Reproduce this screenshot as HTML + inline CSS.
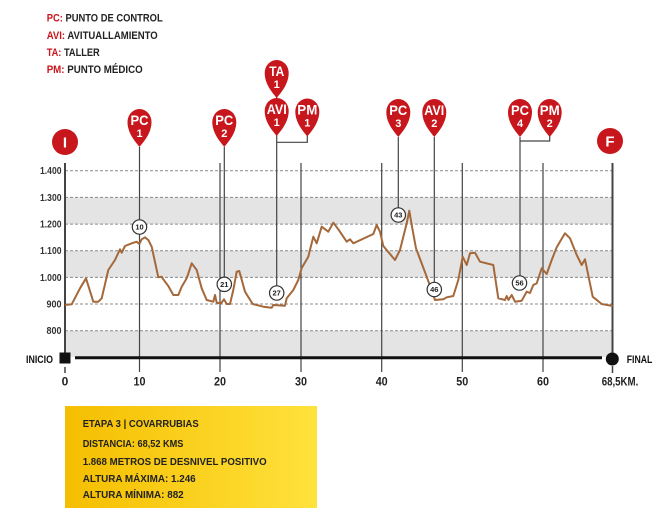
<!DOCTYPE html>
<html><head><meta charset="utf-8"><style>
html,body{margin:0;padding:0;background:#fff;}
svg{display:block;}
text{font-family:"Liberation Sans Narrow","Liberation Sans",sans-serif;font-weight:bold;}
</style></head><body>
<svg width="672" height="525" viewBox="0 0 672 525" xmlns="http://www.w3.org/2000/svg">
<defs>
<linearGradient id="yg" x1="0" x2="1" y1="0" y2="0">
<stop offset="0" stop-color="#F5BE00"/><stop offset="1" stop-color="#FFE23C"/>
</linearGradient>
</defs>
<!-- legend -->
<g font-size="11" fill="#222">
<text x="46.7" y="21.5" textLength="116" lengthAdjust="spacingAndGlyphs"><tspan fill="#C8161D">PC:</tspan> PUNTO DE CONTROL</text>
<text x="46.7" y="38.8" textLength="111" lengthAdjust="spacingAndGlyphs"><tspan fill="#C8161D">AVI:</tspan> AVITUALLAMIENTO</text>
<text x="46.7" y="56" textLength="53" lengthAdjust="spacingAndGlyphs"><tspan fill="#C8161D">TA:</tspan> TALLER</text>
<text x="46.7" y="73.2" textLength="96" lengthAdjust="spacingAndGlyphs"><tspan fill="#C8161D">PM:</tspan> PUNTO MÉDICO</text>
</g>
<!-- bands -->
<rect x="65" y="197.4" width="547.5" height="26.7" fill="#E4E4E4"/>
<rect x="65" y="250.7" width="547.5" height="26.7" fill="#E4E4E4"/>
<rect x="65" y="330.7" width="547.5" height="26" fill="#E4E4E4"/>
<!-- dashed grid -->
<g stroke="#8a8a8a" stroke-width="1" stroke-dasharray="3 2">
<line x1="65" x2="612" y1="170.7" y2="170.7"/>
<line x1="65" x2="612" y1="197.4" y2="197.4"/>
<line x1="65" x2="612" y1="224.1" y2="224.1"/>
<line x1="65" x2="612" y1="250.7" y2="250.7"/>
<line x1="65" x2="612" y1="277.4" y2="277.4"/>
<line x1="65" x2="612" y1="304" y2="304"/>
<line x1="65" x2="612" y1="330.7" y2="330.7"/>
</g>
<!-- y labels -->
<g font-size="10" fill="#333" text-anchor="end">
<text x="61.5" y="174.2" textLength="21.5" lengthAdjust="spacingAndGlyphs">1.400</text>
<text x="61.5" y="200.9" textLength="21.5" lengthAdjust="spacingAndGlyphs">1.300</text>
<text x="61.5" y="227.6" textLength="21.5" lengthAdjust="spacingAndGlyphs">1.200</text>
<text x="61.5" y="254.2" textLength="21.5" lengthAdjust="spacingAndGlyphs">1.100</text>
<text x="61.5" y="280.9" textLength="21.5" lengthAdjust="spacingAndGlyphs">1.000</text>
<text x="61.5" y="307.5" textLength="15" lengthAdjust="spacingAndGlyphs">900</text>
<text x="61.5" y="334.2" textLength="15" lengthAdjust="spacingAndGlyphs">800</text>
</g>
<!-- vertical grid lines -->
<g stroke="#444" stroke-width="1.2">
<line x1="220" x2="220" y1="163" y2="372"/>
<line x1="301" x2="301" y1="163" y2="372"/>
<line x1="381.7" x2="381.7" y1="163" y2="372"/>
<line x1="462.3" x2="462.3" y1="163" y2="372"/>
<line x1="543" x2="543" y1="163" y2="372"/>
</g>
<line x1="65" x2="65" y1="163" y2="358" stroke="#444" stroke-width="2"/>
<line x1="612.5" x2="612.5" y1="163" y2="358" stroke="#444" stroke-width="2"/>
<line x1="65" x2="65" y1="367" y2="373" stroke="#444" stroke-width="1.5"/>
<line x1="612.5" x2="612.5" y1="366" y2="373" stroke="#444" stroke-width="1.5"/>
<!-- marker lines -->
<g stroke="#444" stroke-width="1.2" fill="none">
<line x1="139.5" x2="139.5" y1="147" y2="372"/>
<line x1="224.3" x2="224.3" y1="147" y2="284"/>
<line x1="276.7" x2="276.7" y1="97" y2="102"/>
<line x1="276.7" x2="276.7" y1="135" y2="293"/>
<polyline points="276.7,142.3 307.3,142.3 307.3,136"/>
<line x1="398.3" x2="398.3" y1="137" y2="215"/>
<line x1="434.3" x2="434.3" y1="137" y2="289"/>
<line x1="520" x2="520" y1="137" y2="283"/>
<polyline points="520,141 549.7,141 549.7,136"/>
</g>
<!-- profile -->
<polyline fill="none" stroke="#A4683A" stroke-width="2" stroke-linejoin="round" points="
65,305 71.7,304.3 80,288.3 86,278.3 93.3,301.7 98.3,301.7 101.7,298.3 108.3,270 115,260 120,249.3 121.7,252.7 125,246 131.7,243.3 136.7,241.7 139.3,244 141.7,239.3 145,237.3 148.3,240 151.7,246.7 158.3,277.3 161.7,276.7 163.3,279.3 168.3,286 173.3,295 178.3,295 181.7,286.7 186.7,278.3 191.7,263.3 196.7,270 201.7,288.3 206.7,300 213.3,301.7 215,295 216.7,302.7 221,303.3 224,299.3 226.7,304 230,304 233.3,290 236.7,271.7 239.3,271 245,291.7 252.7,304 263.3,306.7 271.7,307.7 273.3,305 285,305.7 286.7,298.3 293.3,290 298.3,280 301.7,268 308.3,256.7 313.3,236.7 316.7,243.3 321.7,226.7 328.3,231.7 333.3,222.7 338.3,229.3 346.7,241.7 350,239.3 353.3,243.3 373.3,234 376.7,225 380,231.7 383.3,246 395,260 400,250 406.7,223.3 409.3,210.7 411.7,225 416,248.3 426.7,276.7 435,300 443.3,299.3 446.7,297.3 453.3,296 458.3,280 462.7,256.7 466.7,265 470,253.3 475,252.7 480,261.7 493.3,265 498.3,298.3 505,300 506.7,296 508.5,300 511.7,295 515,301.7 521.7,300.7 526.7,291.7 530,293 533.3,285 536.7,283.3 541.7,268.3 546.7,274 551.7,260 556.7,247.3 565,233.3 570,238.3 576.7,255 581.7,265 585,259.3 592.7,296.7 601.7,304 612.7,306"/>
<!-- number circles -->
<g stroke="#333" stroke-width="1.2" fill="#fff">
<circle cx="139.5" cy="227" r="7.2"/>
<circle cx="224.3" cy="284.3" r="7.2"/>
<circle cx="276.7" cy="293" r="7.2"/>
<circle cx="398.3" cy="215" r="7.2"/>
<circle cx="434.3" cy="289.5" r="7.2"/>
<circle cx="519.5" cy="283" r="7.2"/>
</g>
<g font-size="7.5" fill="#222" text-anchor="middle">
<text x="139.5" y="229.7">10</text>
<text x="224.3" y="287">21</text>
<text x="276.7" y="295.7">27</text>
<text x="398.3" y="217.7">43</text>
<text x="434.3" y="292.2">46</text>
<text x="519.5" y="285.7">56</text>
</g>
<!-- axis -->
<line x1="75" x2="602" y1="357.8" y2="357.8" stroke="#111" stroke-width="3"/>
<rect x="59.5" y="352.5" width="11" height="11" fill="#111"/>
<circle cx="612.3" cy="359" r="6.5" fill="#111"/>
<text x="26" y="363" font-size="11" fill="#111" textLength="27" lengthAdjust="spacingAndGlyphs">INICIO</text>
<text x="626.7" y="363" font-size="11" fill="#111" textLength="25.7" lengthAdjust="spacingAndGlyphs">FINAL</text>
<!-- x labels -->
<g font-size="12" fill="#222" text-anchor="middle">
<text x="65" y="385.5">0</text>
<text x="139.5" y="385.5" textLength="12" lengthAdjust="spacingAndGlyphs">10</text>
<text x="220" y="385.5" textLength="12" lengthAdjust="spacingAndGlyphs">20</text>
<text x="301" y="385.5" textLength="12" lengthAdjust="spacingAndGlyphs">30</text>
<text x="381.7" y="385.5" textLength="12" lengthAdjust="spacingAndGlyphs">40</text>
<text x="462.3" y="385.5" textLength="12" lengthAdjust="spacingAndGlyphs">50</text>
<text x="543" y="385.5" textLength="12" lengthAdjust="spacingAndGlyphs">60</text>
</g>
<text x="601.7" y="385.5" font-size="12" fill="#222" textLength="36.6" lengthAdjust="spacingAndGlyphs">68,5KM.</text>
<!-- start/end circles -->
<circle cx="65" cy="142" r="13" fill="#C8161D"/>
<text x="65" y="147.5" font-size="15" fill="#fff" text-anchor="middle">I</text>
<circle cx="610" cy="141" r="13" fill="#C8161D"/>
<text x="610" y="146.5" font-size="15" fill="#fff" text-anchor="middle">F</text>
<!-- pins -->
<g fill="#C8161D">
<path transform="translate(139.5,147)" d="M0,0 C-3,-4 -12,-13 -12,-25 A12,13 0 0 1 12,-25 C12,-13 3,-4 0,0 Z"/>
<path transform="translate(224.3,147)" d="M0,0 C-3,-4 -12,-13 -12,-25 A12,13 0 0 1 12,-25 C12,-13 3,-4 0,0 Z"/>
<path transform="translate(276.7,98)" d="M0,0 C-3,-4 -12,-13 -12,-25 A12,13 0 0 1 12,-25 C12,-13 3,-4 0,0 Z"/>
<path transform="translate(276.7,136)" d="M0,0 C-3,-4 -12,-13 -12,-25 A12,13 0 0 1 12,-25 C12,-13 3,-4 0,0 Z"/>
<path transform="translate(307.3,136.5)" d="M0,0 C-3,-4 -12,-13 -12,-25 A12,13 0 0 1 12,-25 C12,-13 3,-4 0,0 Z"/>
<path transform="translate(398.3,137)" d="M0,0 C-3,-4 -12,-13 -12,-25 A12,13 0 0 1 12,-25 C12,-13 3,-4 0,0 Z"/>
<path transform="translate(434.3,137)" d="M0,0 C-3,-4 -12,-13 -12,-25 A12,13 0 0 1 12,-25 C12,-13 3,-4 0,0 Z"/>
<path transform="translate(520,137)" d="M0,0 C-3,-4 -12,-13 -12,-25 A12,13 0 0 1 12,-25 C12,-13 3,-4 0,0 Z"/>
<path transform="translate(549.7,137)" d="M0,0 C-3,-4 -12,-13 -12,-25 A12,13 0 0 1 12,-25 C12,-13 3,-4 0,0 Z"/>
</g>
<g fill="#fff" text-anchor="middle">
<g font-size="14">
<text x="139.5" y="125" textLength="18" lengthAdjust="spacingAndGlyphs">PC</text>
<text x="224.3" y="125" textLength="18" lengthAdjust="spacingAndGlyphs">PC</text>
<text x="276.7" y="76" textLength="15" lengthAdjust="spacingAndGlyphs">TA</text>
<text x="276.7" y="114" textLength="20" lengthAdjust="spacingAndGlyphs">AVI</text>
<text x="307.3" y="114.5" textLength="20" lengthAdjust="spacingAndGlyphs">PM</text>
<text x="398.3" y="115" textLength="18" lengthAdjust="spacingAndGlyphs">PC</text>
<text x="434.3" y="115" textLength="20" lengthAdjust="spacingAndGlyphs">AVI</text>
<text x="520" y="115" textLength="18" lengthAdjust="spacingAndGlyphs">PC</text>
<text x="549.7" y="115" textLength="20" lengthAdjust="spacingAndGlyphs">PM</text>
</g>
<g font-size="11">
<text x="139.5" y="137">1</text>
<text x="224.3" y="137">2</text>
<text x="276.7" y="88">1</text>
<text x="276.7" y="126">1</text>
<text x="307.3" y="126.5">1</text>
<text x="398.3" y="127">3</text>
<text x="434.3" y="127">2</text>
<text x="520" y="127">4</text>
<text x="549.7" y="127">2</text>
</g>
</g>
<!-- info box -->
<rect x="65" y="406" width="252" height="102" fill="url(#yg)"/>
<g font-size="10.5" fill="#222">
<text x="82.7" y="427" textLength="116" lengthAdjust="spacingAndGlyphs">ETAPA 3 | COVARRUBIAS</text>
<text x="82.7" y="447" textLength="100.7" lengthAdjust="spacingAndGlyphs">DISTANCIA: 68,52 KMS</text>
<text x="82.7" y="465" textLength="184" lengthAdjust="spacingAndGlyphs">1.868 METROS DE DESNIVEL POSITIVO</text>
<text x="82.7" y="482" textLength="113" lengthAdjust="spacingAndGlyphs">ALTURA MÁXIMA: 1.246</text>
<text x="82.7" y="498" textLength="101" lengthAdjust="spacingAndGlyphs">ALTURA MÍNIMA: 882</text>
</g>
</svg>
</body></html>
